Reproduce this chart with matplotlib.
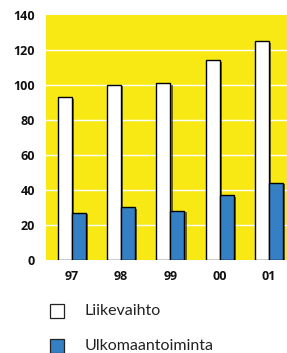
import matplotlib
matplotlib.use('Agg')
import matplotlib.pyplot as plt
import matplotlib.patheffects as pe
from matplotlib.patches import Rectangle
import numpy as np

# Data
years = ['97', '98', '99', '00', '01']
liikevaihto = [93, 100, 101, 114, 125]
ulkomaa = [27, 30, 28, 37, 44]
labels = ['Liikevaihto', 'Ulkomaantoiminta']

yellow = '#f8e914'
blue = '#3580c4'

plt.rcParams['font.family'] = ['Lato', 'DejaVu Sans']

W, H = 287, 353
fig = plt.figure(figsize=(W / 100, H / 100), dpi=100)
ax = fig.add_axes([0.160, 0.2635, 0.840, 0.694])
ax.set_facecolor(yellow)

x = np.arange(len(years))
w = 0.284
shadow = [pe.SimplePatchShadow(offset=(1.5, -1), shadow_rgbFace='black', alpha=0.55), pe.Normal()]
b1 = ax.bar(x - w / 2, liikevaihto, w, color='white', edgecolor='black', linewidth=1,
            path_effects=shadow, zorder=3)
b2 = ax.bar(x + w / 2, ulkomaa, w, color=blue, edgecolor='black', linewidth=1,
            path_effects=shadow, zorder=3)

ax.set_xlim(-0.527, 4.365)
ax.set_ylim(0, 140)
ax.set_yticks(range(0, 141, 20))
ax.set_xticks(x)
ax.set_xticklabels(years)
for yv in range(20, 140, 20):
    ax.axhline(yv, color='white', linewidth=1, zorder=1)
for s in ax.spines.values():
    s.set_visible(False)
ax.tick_params(length=0)
ax.tick_params(axis='x', pad=7)
ax.tick_params(axis='y', pad=8)
for t in ax.get_xticklabels() + ax.get_yticklabels():
    t.set_fontfamily(['Open Sans', 'DejaVu Sans'])
    t.set_fontweight('bold')
    t.set_fontsize(9)
    t.set_color('#111111')

# legend, drawn by hand in pixel positions
faces = ['white', blue]
tops = [304, 339]
for face, top, lab in zip(faces, tops, labels):
    fig.add_artist(Rectangle((50 / W, 1 - (top + 14) / H), 14 / W, 14 / H,
                             transform=fig.transFigure, facecolor=face,
                             edgecolor='#222222', linewidth=0.9))
    fig.text(85 / W, 1 - (top + 7) / H, lab, fontsize=11.5, color='#222222',
             va='center', ha='left')

fig.savefig('out.png', dpi=100)
